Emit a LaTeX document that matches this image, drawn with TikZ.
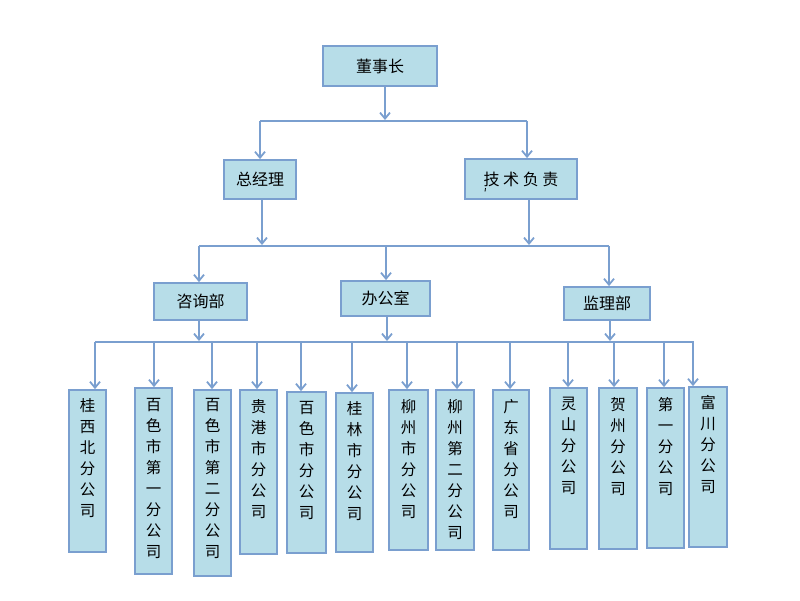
\documentclass[tikz,border=0pt]{standalone}
\usepackage{fontspec}
\newfontfamily\cjk{Noto Sans CJK SC}
\usetikzlibrary{arrows.meta}
\definecolor{boxfill}{HTML}{B7DDE8}
\definecolor{lineblue}{HTML}{7A9FCF}
\tikzset{
  box/.style={draw=lineblue, line width=1.8pt, fill=boxfill, inner sep=0pt, rectangle},
  hbox/.style={box, font=\cjk\fontsize{16}{16}\selectfont},
  vtext/.style={anchor=north, align=center, inner sep=0pt, font=\cjk\fontsize{15.5}{21}\selectfont},
  conn/.style={draw=lineblue, line width=1.8pt},
  arr/.style={conn, -{Straight Barb[length=6pt,width=10pt]}},
}
\begin{document}
\begin{tikzpicture}[x=1pt,y=-1pt]
\useasboundingbox (0,0) rectangle (800,600);
% top levels
\node[hbox, minimum width=114pt, minimum height=40pt] (dsz) at (380,66) {董事长};
\node[hbox, minimum width=72pt, minimum height=39pt] (zjl) at (260,179.5) {总经理};
\node[hbox, minimum width=112pt, minimum height=40pt] (jsfz) at (521,179) {技\ 术\ 负\ 责};
\draw[line width=0.8pt] (485.5,188) -- (485,191.5);
\coordinate (j1) at (385,121);
\coordinate (j1l) at (260,121);
\coordinate (j1r) at (527,121);
\draw[arr] (385,86) -- (385,120);
\draw[conn] (j1l) -- (j1r);
\draw[arr] (j1l) -- (j1l |- zjl.north);
\draw[arr] (j1r) -- (j1r |- jsfz.north);
% second level
\node[hbox, minimum width=93pt, minimum height=37pt] (zxb) at (200.5,301.5) {咨询部};
\node[hbox, minimum width=89pt, minimum height=35pt] (bgs) at (385.5,298.5) {办公室};
\node[hbox, minimum width=86pt, minimum height=33pt] (jlb) at (607,303.5) {监理部};
\coordinate (j2l) at (199,246);
\coordinate (j2m) at (386,246);
\coordinate (j2r) at (609,246);
\draw[arr] (262,199) -- (262,245);
\draw[arr] (529,199) -- (529,245);
\draw[conn] (j2l) -- (j2r);
\draw[arr] (j2l) -- (j2l |- zxb.north);
\draw[arr] (j2m) -- (j2m |- bgs.north);
\draw[arr] (j2r) -- (j2r |- jlb.north);
% third level bus
\coordinate (bl) at (95,342);
\coordinate (br) at (694,342);
\draw[arr] (zxb.south -| 199,0) -- (199,341);
\draw[arr] (bgs.south -| 387,0) -- (387,341);
\draw[arr] (jlb.south -| 610,0) -- (610,341);
\draw[conn] (bl) -- (br);
% leaves: box, text, arrow
\node[box, minimum width=37pt, minimum height=162pt] (b1) at (87.5,471) {};
\node[vtext] (t1) at (87.5,398) {桂\\西\\北\\分\\公\\司};
\node[box, minimum width=37pt, minimum height=186pt] (b2) at (153.5,481) {};
\node[vtext] (t2) at (153.5,398) {百\\色\\市\\第\\一\\分\\公\\司};
\node[box, minimum width=37pt, minimum height=186pt] (b3) at (212.5,483) {};
\node[vtext] (t3) at (212.5,398) {百\\色\\市\\第\\二\\分\\公\\司};
\node[box, minimum width=37pt, minimum height=164pt] (b4) at (258.5,472) {};
\node[vtext] (t4) at (258.5,399) {贵\\港\\市\\分\\公\\司};
\node[box, minimum width=39pt, minimum height=161pt] (b5) at (306.5,472.5) {};
\node[vtext] (t5) at (306.5,401) {百\\色\\市\\分\\公\\司};
\node[box, minimum width=37pt, minimum height=159pt] (b6) at (354.5,472.5) {};
\node[vtext] (t6) at (354.5,401) {桂\\林\\市\\分\\公\\司};
\node[box, minimum width=39pt, minimum height=160pt] (b7) at (408.5,470) {};
\node[vtext] (t7) at (408.5,399) {柳\\州\\市\\分\\公\\司};
\node[box, minimum width=38pt, minimum height=160pt] (b8) at (455,470) {};
\node[vtext] (t8) at (455,399) {柳\\州\\第\\二\\分\\公\\司};
\node[box, minimum width=36pt, minimum height=160pt] (b9) at (511,470) {};
\node[vtext] (t9) at (511,399) {广\\东\\省\\分\\公\\司};
\node[box, minimum width=37pt, minimum height=161pt] (b10) at (568.5,468.5) {};
\node[vtext] (t10) at (568.5,397) {灵\\山\\分\\公\\司};
\node[box, minimum width=38pt, minimum height=161pt] (b11) at (618,468.5) {};
\node[vtext] (t11) at (618,397) {贺\\州\\分\\公\\司};
\node[box, minimum width=37pt, minimum height=160pt] (b12) at (665.5,468) {};
\node[vtext] (t12) at (665.5,397) {第\\一\\分\\公\\司};
\node[box, minimum width=38pt, minimum height=160pt] (b13) at (708,467) {};
\node[vtext] (t13) at (708,395) {富\\川\\分\\公\\司};
\foreach \i/\x in {1/95,2/154,3/212,4/257,5/301,6/352,7/407,8/457,9/510,10/568,11/614,12/664,13/693}{
  \coordinate (p\i) at (\x,342);
  \draw[arr] (p\i) -- (p\i |- b\i.north);
}
\end{tikzpicture}
\end{document}
